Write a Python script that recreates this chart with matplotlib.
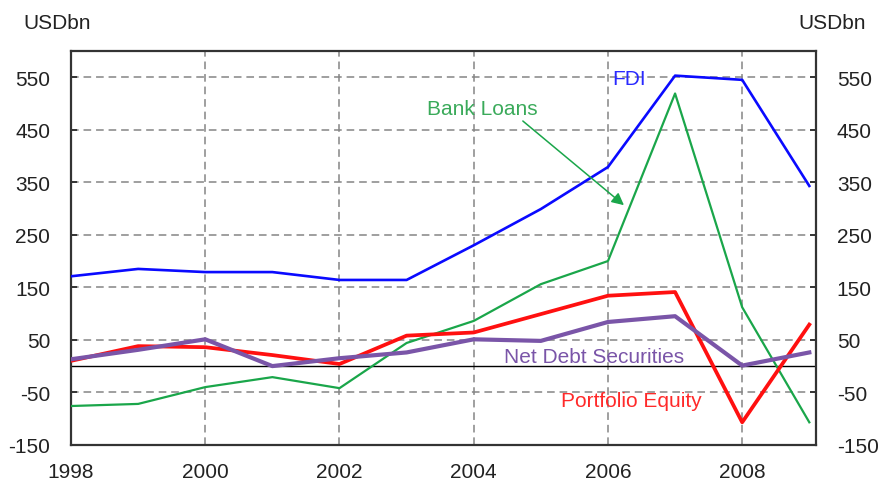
import numpy as np
import matplotlib.pyplot as plt

plt.rcParams['font.family'] = ['Liberation Sans', 'DejaVu Sans']
plt.rcParams['axes.unicode_minus'] = False

years = np.arange(1998, 2010)
fdi = [171, 185, 179, 179, 164, 164, 230, 299, 379, 553, 545, 343]
bank_loans = [-76, -72, -40, -21, -42, 44, 86, 156, 200, 519, 112, -107]
portfolio_equity = [10, 38, 36, 21, 4, 58, 64, 99, 134, 141, -107, 79]
net_debt = [13, 31, 51, 0, 15, 26, 51, 48, 84, 95, 1, 26]

yticks = [-150, -50, 50, 150, 250, 350, 450, 550]
xticks = [1998, 2000, 2002, 2004, 2006, 2008]

fig = plt.figure(figsize=(8.8, 4.81), dpi=100)
ax = fig.add_axes([0.0807, 0.073, 0.8466, 0.819])

grid_kw = dict(color='#858585', lw=1.1, ls=(0, (5, 3.2)), zorder=1)
for y in yticks[1:]:
    ax.axhline(y, **grid_kw)
for x in xticks[1:]:
    ax.axvline(x, **grid_kw)
ax.axhline(0, color='black', lw=1.0, zorder=2)

ax.plot(years, bank_loans, color='#1aa64a', lw=1.6, zorder=3)
ax.plot(years, fdi, color='#0a0aff', lw=1.9, zorder=4)
ax.plot(years, portfolio_equity, color='#ff1010', lw=2.7, zorder=5)
ax.plot(years, net_debt, color='#7a55a8', lw=3.0, zorder=6)

ax.set_xlim(1998.02, 2009.1)
ax.set_ylim(-150, 600)
ax.set_xticks(xticks)
ax.set_yticks(yticks)
ax.tick_params(axis='both', labelsize=15, colors='#222222', length=4,
               direction='in', width=1.2)
ax.tick_params(axis='x', length=0, pad=12)
ax.tick_params(axis='y', pad=15)

ax.tick_params(axis='y', right=True, labelright=True)
for side in ['left', 'right', 'top', 'bottom']:
    ax.spines[side].set_color('#333333')
    ax.spines[side].set_linewidth(1.6)

fig.text(0.026, 0.952, 'USDbn', fontsize=15, color='#222222', va='center')
fig.text(0.907, 0.952, 'USDbn', fontsize=15, color='#222222', va='center')

ax.text(2006.07, 547, 'FDI', color='#2a2aff', fontsize=15, va='center')
ax.text(2003.3, 490, 'Bank Loans', color='#3aaa5a', fontsize=15, va='center')
ax.annotate('', xy=(2006.27, 303), xytext=(2004.7, 470),
            arrowprops=dict(arrowstyle='-|>', color='#1aa64a', lw=1.1,
                            mutation_scale=18), zorder=7)
ax.text(2004.45, 18, 'Net Debt Securities', color='#7a55a8', fontsize=15,
        va='center')
ax.text(2005.3, -65, 'Portfolio Equity', color='#ff2a2a', fontsize=15,
        va='center')

fig.savefig('out.png', dpi=100)
